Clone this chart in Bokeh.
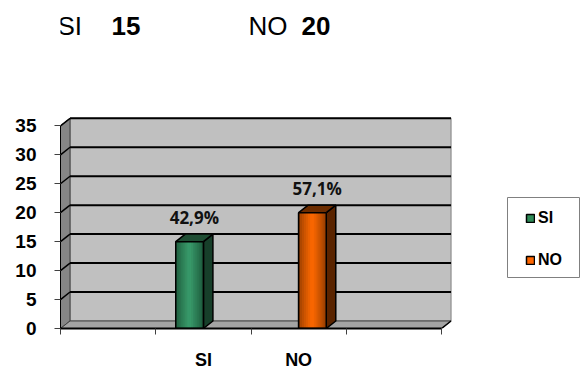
from bokeh.plotting import figure
from bokeh.models import Range1d, FixedTicker, Label, Legend, LegendItem, BoxAnnotation
from bokeh.core.properties import value
from bokeh.embed import file_html
from bokeh.resources import INLINE

# ---- data ----
categories = ["SI", "NO"]
series_names = ["SI", "NO"]
si_values = [15, 0]
no_values = [0, 20]
percent_labels = ["42,9%", "57,1%"]
y_ticks = [0, 5, 10, 15, 20, 25, 30, 35]
header_labels = ["SI", "15", "NO", "20"]

# ---- styling / geometry ----
DX, DY = 0.1, 1.3          # 3D depth offset (data units)
BAR_W = 0.29
OFFS = [-0.145, 0.145]
N_SLOTS = 4
Y_MAX = 35
FONT = "Liberation Sans"
edge_cols = {"SI": (0x1c, 0x55, 0x39), "NO": (0x8c, 0x3a, 0x00)}
mid_cols = {"SI": (0x3a, 0x9c, 0x6c), "NO": (0xff, 0x6a, 0x00)}
side_cols = {"SI": "#173f2a", "NO": "#5a2400"}
top_cols = {"SI": "#1e4d33", "NO": "#6b2c00"}
legend_cols = {"SI": "#2e8b57", "NO": "#ff6600"}

p = figure(width=580, height=373, x_range=Range1d(0, 5.459), y_range=Range1d(0, 56.65),
           output_backend="svg", toolbar_location=None,
           min_border_left=60, min_border_right=0, min_border_top=0, min_border_bottom=45)
p.outline_line_color = None
p.xgrid.visible = False
p.ygrid.visible = False
p.background_fill_color = "white"
p.border_fill_color = "white"

# walls
p.quad(left=[DX], right=[N_SLOTS + DX], bottom=[DY], top=[Y_MAX + DY],
       fill_color="#C0C0C0", line_color="#808080", line_width=1)
p.patch([0, DX, DX, 0], [0, DY, Y_MAX + DY, Y_MAX], fill_color="#868686", line_color="#404040", line_width=1)
p.patch([0, DX, N_SLOTS + DX, N_SLOTS], [0, DY, DY, 0], fill_color="#A4A4A4", line_color="#404040", line_width=1)

# gridlines on back wall + left wall
gl = [t for t in y_ticks if t > 0]
p.segment(x0=[DX] * len(gl), y0=[t + DY for t in gl], x1=[N_SLOTS + DX] * len(gl), y1=[t + DY for t in gl],
          line_color="black", line_width=2)
p.segment(x0=[0] * len(gl), y0=gl, x1=[DX] * len(gl), y1=[t + DY for t in gl],
          line_color="black", line_width=1.5)
p.segment(x0=[N_SLOTS], y0=[0], x1=[N_SLOTS + DX], y1=[DY], line_color="black", line_width=1.5)


def mix(a, b, t):
    return "#%02x%02x%02x" % tuple(int(round(a[i] + (b[i] - a[i]) * t)) for i in range(3))


series_values = {"SI": si_values, "NO": no_values}
legend_renderers = {}
for si, name in enumerate(series_names):
    vals = series_values[name]
    for ci, cat in enumerate(categories):
        v = vals[ci]
        if v <= 0:
            continue
        c = ci + 1.5 + OFFS[si]
        l, r = c - BAR_W / 2, c + BAR_W / 2
        # side and top
        p.patch([r, r + DX, r + DX, r], [0, DY, v + DY, v], fill_color=side_cols[name],
                line_color="black", line_width=1.5)
        p.patch([l, l + DX, r + DX, r], [v, v + DY, v + DY, v], fill_color=top_cols[name],
                line_color="black", line_width=1.5)
        # base front face (also used as legend glyph)
        legend_renderers[name] = p.quad(left=[l], right=[r], bottom=[0], top=[v],
                                        fill_color=legend_cols[name], line_color="black", line_width=1.5)
        # front face gradient
        n = 14
        lefts, rights, cols = [], [], []
        for k in range(n):
            t = 1 - abs((k + 0.5) / n * 2 - 1)
            lefts.append(l + (r - l) * k / n)
            rights.append(l + (r - l) * (k + 1) / n)
            cols.append(mix(edge_cols[name], mid_cols[name], t ** 0.8))
        p.quad(left=lefts, right=rights, bottom=[0] * n, top=[v] * n, fill_color=cols,
               line_color=cols, line_width=0.6)
        p.quad(left=[l], right=[r], bottom=[0], top=[v], fill_color=None, line_color="black", line_width=1.5)
        p.text(x=[c + DX / 2], y=[v + DY], text=[percent_labels[ci]], text_font=value("Open Sans"),
               text_font_style="bold", text_font_size="17px", text_align="center",
               text_baseline="middle", y_offset=-17, text_color="#111111")

# axes
p.yaxis.ticker = FixedTicker(ticks=y_ticks)
p.yaxis.bounds = (0, Y_MAX)
p.yaxis.major_tick_in = 0
p.yaxis.major_tick_out = 6
p.yaxis.major_tick_line_color = "#404040"
p.yaxis.minor_tick_line_color = None
p.yaxis.axis_line_color = "black"
p.yaxis.major_label_standoff = 18
p.yaxis.major_label_text_font = FONT
p.yaxis.major_label_text_font_style = "bold"
p.yaxis.major_label_text_font_size = "19px"
p.yaxis.major_label_text_color = "black"

cat_pos = [i + 1.5 for i in range(len(categories))]
p.xaxis.ticker = FixedTicker(ticks=cat_pos, minor_ticks=list(range(N_SLOTS + 1)))
p.xaxis.major_label_overrides = {pos: cat for pos, cat in zip(cat_pos, categories)}
p.xaxis.bounds = (0, N_SLOTS)
p.xaxis.major_tick_in = 0
p.xaxis.major_tick_out = 0
p.xaxis.minor_tick_in = 0
p.xaxis.minor_tick_out = 6
p.xaxis.minor_tick_line_color = "#404040"
p.xaxis.axis_line_color = "black"
p.xaxis.axis_line_width = 2
p.xaxis.major_label_standoff = 15
p.xaxis.major_label_text_font = FONT
p.xaxis.major_label_text_font_style = "bold"
p.xaxis.major_label_text_font_size = "18px"
p.xaxis.major_label_text_color = "black"

# legend frame box
p.add_layout(BoxAnnotation(left=447, right=519, bottom=51, top=131,
                           left_units="screen", right_units="screen",
                           bottom_units="screen", top_units="screen",
                           fill_color="white", fill_alpha=1.0,
                           line_color="#808080", line_width=1, line_alpha=1.0))

# legend
legend = Legend(items=[LegendItem(label=n, renderers=[legend_renderers[n]]) for n in series_names],
                location=(465, 58), orientation="vertical",
                border_line_color=None, background_fill_alpha=0,
                padding=0, spacing=22, label_height=20, label_width=30,
                glyph_width=10, glyph_height=10, label_standoff=3, margin=0,
                label_text_font=FONT, label_text_font_style="bold", label_text_font_size="16px",
                label_text_color="black")
p.add_layout(legend, "center")

# header line
header_x = [-3, 51, 188, 241]
header_styles = ["normal", "bold", "normal", "bold"]
for txt, hx, st in zip(header_labels, header_x, header_styles):
    p.add_layout(Label(x=hx, y=303, x_units="screen", y_units="screen", text=txt,
                       text_font=FONT, text_font_style=st, text_font_size="26px",
                       text_baseline="alphabetic", text_color="black"))

open("out.html", "w").write(file_html(p, INLINE))
